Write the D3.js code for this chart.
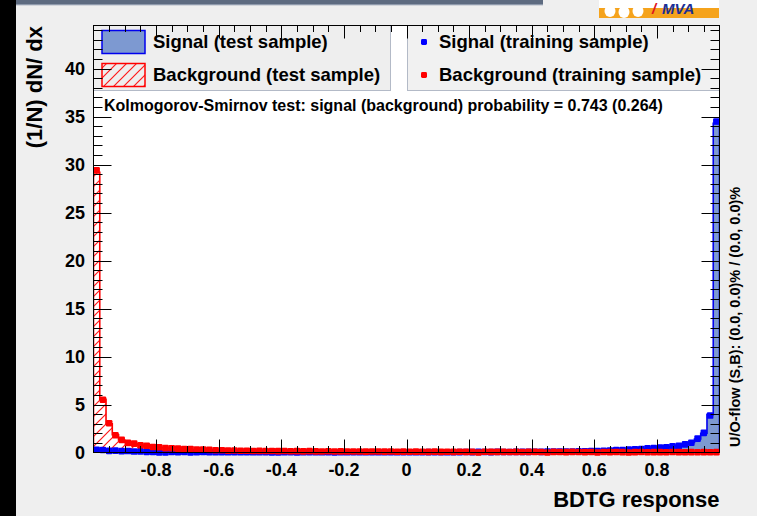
<!DOCTYPE html>
<html><head><meta charset="utf-8">
<script src="https://cdn.jsdelivr.net/npm/d3@7"></script>
<style>
html,body{margin:0;padding:0;background:#efefef;}
svg{display:block;}
text{font-family:"Liberation Sans",Arial,Helvetica,sans-serif;font-weight:bold;fill:#000;}
</style></head><body>
<svg id="c" width="757" height="516"></svg>
<script>
// ---- data ----
const xMin = -1, xMax = 1, nBins = 100;
const sigTest = [
 0.30,0.24,0.20,0.18,0.16,0.14,0.12,0.10,0.09,0.06,
 0.05,0.05,0.04,0.04,0.04,0.03,0.03,0.03,0.03,0.03,
 0.03,0.02,0.02,0.03,0.02,0.02,0.02,0.02,0.02,0.02,
 0.02,0.02,0.02,0.02,0.02,0.02,0.02,0.02,0.02,0.02,
 0.02,0.02,0.02,0.02,0.02,0.03,0.02,0.02,0.02,0.03,
 0.03,0.02,0.03,0.03,0.03,0.03,0.03,0.03,0.04,0.04,
 0.04,0.04,0.05,0.05,0.05,0.05,0.06,0.06,0.06,0.07,
 0.07,0.08,0.08,0.09,0.09,0.10,0.11,0.12,0.13,0.14,
 0.15,0.18,0.21,0.24,0.27,0.30,0.33,0.37,0.41,0.45,
 0.50,0.55,0.62,0.70,0.82,1.05,1.40,2.00,3.95,34.3];
const sigTrain = [
 0.28,0.26,0.17,0.20,0.14,0.15,0.10,0.12,0.07,0.05,
 0.00,0.00,0.05,0.03,0.05,0.00,0.03,0.05,0.03,0.02,
 0.03,0.02,0.03,0.02,0.03,0.02,0.02,0.03,0.00,0.00,
 0.02,0.03,0.00,0.02,0.03,0.02,0.02,0.03,0.00,0.02,
 0.02,0.03,0.02,0.02,0.03,0.02,0.02,0.03,0.02,0.03,
 0.03,0.02,0.03,0.04,0.03,0.03,0.02,0.03,0.04,0.05,
 0.04,0.06,0.05,0.04,0.06,0.05,0.05,0.07,0.06,0.07,
 0.08,0.07,0.09,0.10,0.09,0.11,0.10,0.13,0.12,0.15,
 0.14,0.19,0.20,0.25,0.26,0.31,0.34,0.36,0.43,0.46,
 0.52,0.54,0.64,0.69,0.85,1.02,1.45,2.05,3.85,34.5];
const bkgTest = [
 29.2,5.55,3.00,1.85,1.30,1.05,0.90,0.78,0.68,0.60,
 0.52,0.47,0.42,0.38,0.35,0.32,0.30,0.28,0.26,0.25,
 0.23,0.22,0.20,0.19,0.18,0.18,0.17,0.16,0.16,0.15,
 0.15,0.14,0.14,0.13,0.13,0.13,0.12,0.12,0.12,0.11,
 0.11,0.11,0.10,0.10,0.10,0.10,0.10,0.09,0.09,0.09,
 0.09,0.09,0.08,0.08,0.08,0.08,0.08,0.08,0.07,0.07,
 0.07,0.07,0.07,0.07,0.07,0.06,0.06,0.06,0.06,0.06,
 0.06,0.06,0.06,0.06,0.05,0.05,0.05,0.05,0.05,0.05,
 0.05,0.05,0.05,0.05,0.05,0.04,0.04,0.04,0.04,0.04,
 0.04,0.04,0.04,0.04,0.04,0.04,0.04,0.03,0.03,0.03];
const bkgTrain = [
 29.4,5.50,3.05,1.80,1.32,1.00,0.92,0.75,0.70,0.58,
 0.54,0.46,0.44,0.40,0.36,0.37,0.30,0.30,0.27,0.24,
 0.24,0.20,0.21,0.18,0.19,0.16,0.17,0.15,0.16,0.14,
 0.15,0.13,0.14,0.12,0.14,0.12,0.11,0.13,0.11,0.12,
 0.10,0.11,0.10,0.09,0.11,0.10,0.09,0.10,0.08,0.09,
 0.08,0.09,0.08,0.07,0.09,0.07,0.08,0.07,0.08,0.06,
 0.07,0.00,0.08,0.06,0.07,0.06,0.05,0.07,0.05,0.06,
 0.06,0.05,0.00,0.06,0.05,0.04,0.06,0.05,0.04,0.05,
 0.00,0.05,0.04,0.05,0.04,0.00,0.04,0.05,0.03,0.04,
 0.04,0.03,0.05,0.04,0.03,0.04,0.03,0.04,0.03,0.04];
const xTickValues = [-0.8,-0.6,-0.4,-0.2,0,0.2,0.4,0.6,0.8];
const xTickLabels = ["-0.8","-0.6","-0.4","-0.2","0","0.2","0.4","0.6","0.8"];
const yTickValues = [0,5,10,15,20,25,30,35,40];
const yTickLabels = ["0","5","10","15","20","25","30","35","40"];
const legendTest = ["Signal (test sample)","Background (test sample)"];
const legendTrain = ["Signal (training sample)","Background (training sample)"];
const ksText = "Kolmogorov-Smirnov test: signal (background) probability = 0.743 (0.264)";
const xTitle = "BDTG response";
const yTitle = "(1/N) dN/ dx";
const flowText = "U/O-flow (S,B): (0.0, 0.0)% / (0.0, 0.0)%";

// ---- layout ----
const svg = d3.select("#c");
const L = 93.5, R = 719.5, T = 25.5, B = 452.5;
const yMax = 44.5;
const x = d3.scaleLinear().domain([xMin, xMax]).range([L, R]);
const y = d3.scaleLinear().domain([0, yMax]).range([B, T]);
const bw = (xMax - xMin) / nBins;
const edges = d3.range(nBins + 1).map(i => xMin + i * bw);
const centers = d3.range(nBins).map(i => xMin + (i + 0.5) * bw);

const SIGFILL = "#7d99d1", SIGLINE = "#0000ee", BKG = "#ff0000";

// background canvas
svg.append("rect").attr("width",757).attr("height",516).attr("fill","#efefef");
svg.append("rect").attr("x",0).attr("y",0).attr("width",16).attr("height",516).attr("fill","#000");
// title bar remnant
svg.append("rect").attr("x",16).attr("y",0).attr("width",527).attr("height",4).attr("fill","#5e6b80");
svg.append("rect").attr("x",16).attr("y",4).attr("width",527).attr("height",1.3).attr("fill","#8e99ab");
// logo remnant
const logo = svg.append("g");
logo.append("rect").attr("x",599).attr("y",0).attr("width",120).attr("height",18).attr("fill","#ffffff");
logo.append("rect").attr("x",599).attr("y",8).attr("width",120).attr("height",10).attr("fill","#f5a31c");
[[610,11],[624,12],[638,11]].forEach(c=>{
  logo.append("ellipse").attr("cx",c[0]).attr("cy",c[1]).attr("rx",5.5).attr("ry",6).attr("fill","#fff");
});
logo.append("rect").attr("x",606).attr("y",5).attr("width",36).attr("height",3).attr("fill","#fff");
logo.append("text").attr("x",652).attr("y",14).attr("font-size",15).attr("font-style","italic")
  .style("fill","#e0141e").text("/");
logo.append("text").attr("x",662).attr("y",14).attr("font-size",15).attr("font-style","italic")
  .style("fill","#1b2f95").text("MVA");

// defs
const defs = svg.append("defs");
const pat = defs.append("pattern").attr("id","hatch").attr("patternUnits","userSpaceOnUse")
  .attr("width",10).attr("height",10);
pat.append("path").attr("d","M0,10 L10,0 M-2,2 L2,-2 M8,12 L12,8")
  .style("stroke","#ff1a1a").style("stroke-width","1.2px").style("fill","none");
defs.append("clipPath").attr("id","frameclip").append("rect")
  .attr("x",L).attr("y",T).attr("width",R-L).attr("height",B-T);

// frame interior
svg.append("rect").attr("x",L).attr("y",T).attr("width",R-L).attr("height",B-T).attr("fill","#fff");

// histogram step outline helper
function stepPoints(vals){
  const pts = [[edges[0],0]];
  vals.forEach((v,i)=>{ pts.push([edges[i],v]); pts.push([edges[i+1],v]); });
  pts.push([edges[nBins],0]);
  return pts;
}
const line = d3.line().x(d=>x(d[0])).y(d=>y(d[1]));
const plot = svg.append("g").attr("clip-path","url(#frameclip)");

plot.append("path").attr("d", line(stepPoints(sigTest)) + "Z")
  .attr("fill",SIGFILL).attr("stroke","none");
plot.append("path").attr("d", line(stepPoints(sigTest)))
  .attr("fill","none").attr("stroke",SIGLINE).attr("stroke-width",1.6);
plot.append("path").attr("d", line(stepPoints(bkgTest)) + "Z")
  .attr("fill","url(#hatch)").attr("stroke","none");
plot.append("path").attr("d", line(stepPoints(bkgTest)))
  .attr("fill","none").attr("stroke",BKG).attr("stroke-width",1.6);

// training markers
const MS = 6.6;
function markers(vals, color){
  svg.append("g").selectAll("rect").data(vals).join("rect")
    .attr("x",(d,i)=>x(centers[i])-MS/2).attr("y",d=>y(d)-MS/2)
    .attr("width",MS).attr("height",MS).attr("rx",1.2)
    .attr("fill",color);
}
markers(sigTrain, "#0000ff");
markers(bkgTrain, BKG);

// legends
const lg = svg.append("g");
lg.append("rect").attr("x",L).attr("y",T).attr("width",390.5-L).attr("height",90.5-T)
  .attr("fill","#eeeeee").attr("stroke","#b3bac7").attr("stroke-width",1);
lg.append("rect").attr("x",407.5).attr("y",T).attr("width",R-407.5).attr("height",90.5-T)
  .attr("fill","#f1f1f1").attr("stroke","#b3bac7").attr("stroke-width",1);
lg.append("rect").attr("x",102).attr("y",30.5).attr("width",43).attr("height",23)
  .attr("fill",SIGFILL).attr("stroke",SIGLINE).attr("stroke-width",1.5);
lg.append("rect").attr("x",102).attr("y",63.5).attr("width",43).attr("height",23)
  .attr("fill","url(#hatch)").attr("stroke",BKG).attr("stroke-width",1.5);
const legY = [42, 75];
legendTest.forEach((t,i)=>{
  lg.append("text").attr("x",153).attr("y",legY[i]).attr("dy","0.35em")
    .attr("font-size",18.5).text(t);
});
[["#0000ff",0],[BKG,1]].forEach(([c,i])=>{
  lg.append("rect").attr("x",421).attr("y",legY[i]-3).attr("width",6).attr("height",6)
    .attr("rx",1.4).attr("fill",c);
});
legendTrain.forEach((t,i)=>{
  lg.append("text").attr("x",439).attr("y",legY[i]).attr("dy","0.35em")
    .attr("font-size",18.5).text(t);
});

// KS text
svg.append("text").attr("x",104).attr("y",111).attr("font-size",16).text(ksText);

// axes (redrawn on top)
const ax = svg.append("g").attr("stroke","#000").attr("stroke-width",1).attr("fill","none");
ax.append("rect").attr("x",L).attr("y",T).attr("width",R-L).attr("height",B-T);
const xMinor = d3.range(-19, 20).map(k => k * 0.05);
xMinor.forEach(v=>{
  const major = Math.abs(Math.round(v*100) % 20) === 0;
  const len = major ? 13 : 6.5;
  const px = Math.round(x(v)) + 0.5;
  ax.append("line").attr("x1",px).attr("x2",px).attr("y1",B).attr("y2",B-len);
  ax.append("line").attr("x1",px).attr("x2",px).attr("y1",T).attr("y2",T+len);
});
d3.range(1, 45).forEach(v=>{
  const major = v % 5 === 0;
  const len = major ? 18 : 9;
  const py = Math.round(y(v)) + 0.5;
  ax.append("line").attr("x1",L).attr("x2",L+len).attr("y1",py).attr("y2",py);
  ax.append("line").attr("x1",R).attr("x2",R-len).attr("y1",py).attr("y2",py);
});

// tick labels
xTickValues.forEach((v,i)=>{
  svg.append("text").attr("x",x(v)).attr("y",476).attr("text-anchor","middle")
    .attr("font-size",18).text(xTickLabels[i]);
});
yTickValues.forEach((v,i)=>{
  svg.append("text").attr("x",85).attr("y",y(v)).attr("dy","0.36em").attr("text-anchor","end")
    .attr("font-size",18).text(yTickLabels[i]);
});

// titles
svg.append("text").attr("x",R).attr("y",507).attr("text-anchor","end")
  .attr("font-size",22).text(xTitle);
svg.append("text").attr("transform","translate(42,26) rotate(-90)").attr("text-anchor","end")
  .attr("font-size",22).text(yTitle);
svg.append("text").attr("transform","translate(740,447) rotate(-90)").attr("text-anchor","start")
  .attr("font-size",14.5).text(flowText);
</script>
</body></html>
